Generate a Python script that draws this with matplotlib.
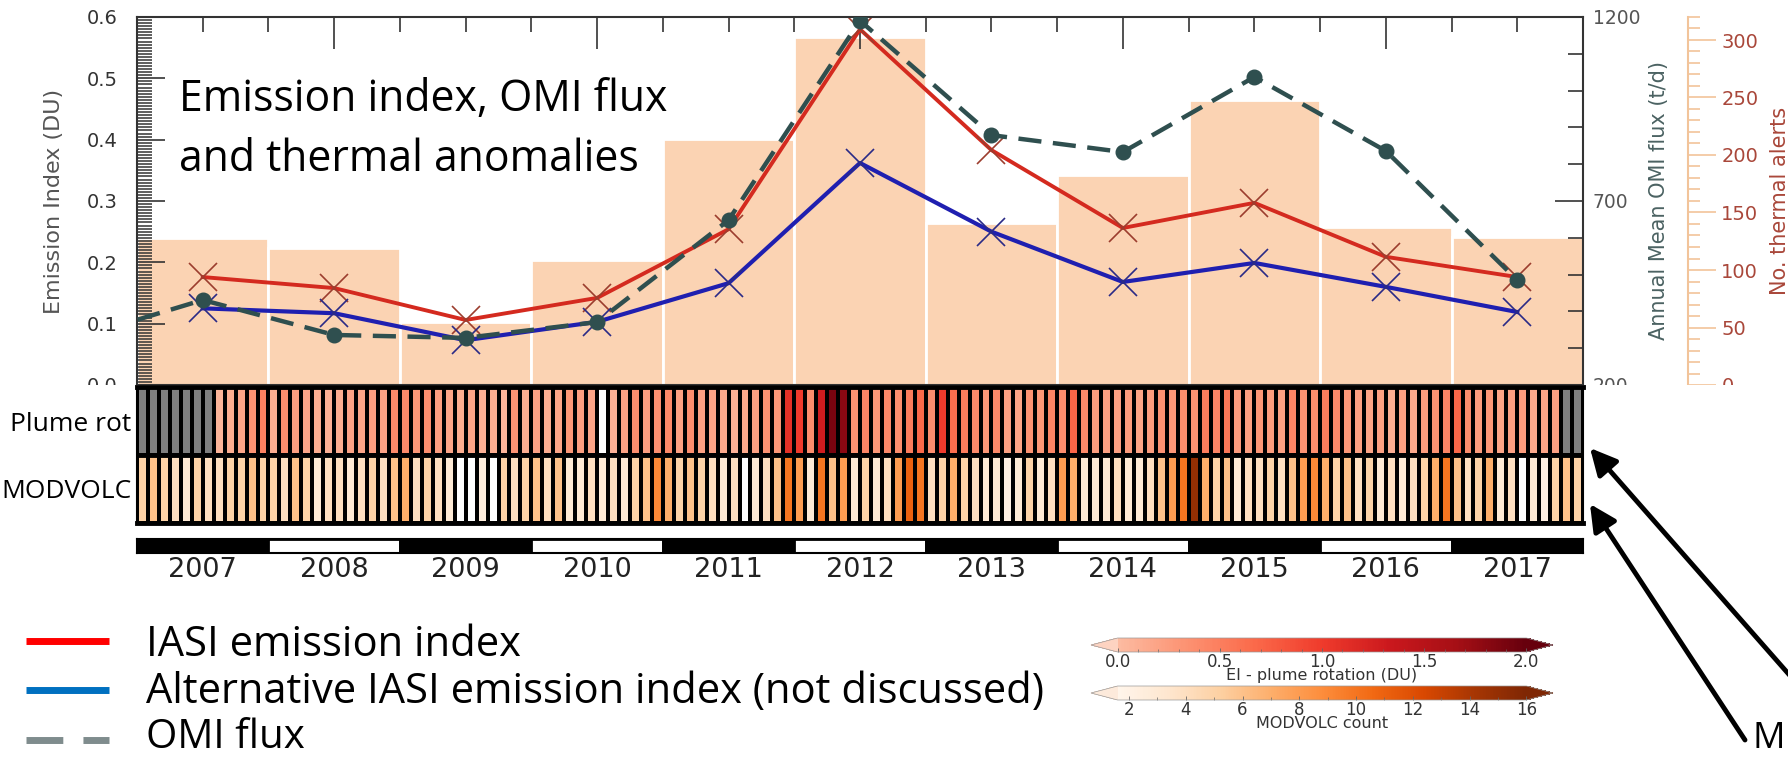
import numpy as np
import matplotlib
matplotlib.use("Agg")
import matplotlib.pyplot as plt
from matplotlib import colors
from matplotlib.patches import Rectangle
from matplotlib.ticker import MultipleLocator, FixedLocator

# annual series
years = list(range(2007, 2018))
iasi_ei = [0.176, 0.158, 0.106, 0.142, 0.254, 0.58, 0.383, 0.256, 0.297, 0.209, 0.176]
alt_ei = [0.125, 0.117, 0.073, 0.103, 0.166, 0.362, 0.25, 0.168, 0.199, 0.16, 0.119]
omi_years = list(range(2006, 2018))
omi_flux = [323, 431, 336, 328, 371, 648, 1190, 879, 833, 1037, 836, 485]
thermal_alerts = [128, 119, 55, 109, 214, 303, 141, 183, 248, 137, 129]

# monthly EI from plume rotation (nan = no data, -1 = not computed)
nan = np.nan
plume_rot = [
    nan, nan, nan, nan, nan, nan, nan, 0.06, 0.12, 0.18, 0.33, 0.48,           # 2007
    0.12, 0.37, 0.24, 0.18, 0.12, 0.09, 0.12, 0.21, 0.18, 0.24, 0.21, 0.42,    # 2008
    0.42, 0.3, 0.37, 0.24, 0.18, 0.12, 0.18, 0.09, 0.12, 0.06, 0.33, 0.12,     # 2009
    0.21, 0.12, 0.18, 0.3, 0.24, 0.18, -1, 0.09, 0.21, 0.37, 0.24, 0.36,       # 2010
    0.41, 0.22, 0.38, 0.22, 0.19, 0.15, 0.09, 0.15, 0.22, 0.34, 0.3, 1.1,      # 2011
    1.0, 0.38, 1.3, 1.9, 1.8, 0.34, 0.45, 0.3, 0.41, 0.38, 0.52, 0.68,         # 2012
    0.38, 1.0, 0.64, 0.52, 0.41, 0.3, 0.41, 0.22, 0.19, 0.34, 0.3, 0.45,       # 2013
    0.38, 0.71, 0.41, 0.26, 0.22, 0.22, 0.26, 0.19, 0.26, 0.34, 0.3, 0.38,     # 2014
    0.34, 0.52, 0.45, 0.56, 0.26, 0.22, 0.3, 0.26, 0.22, 0.45, 0.34, 0.38,     # 2015
    0.52, 0.41, 0.3, 0.22, 0.19, 0.22, 0.11, 0.22, 0.15, 0.26, 0.34, 0.45,     # 2016
    0.68, 0.38, 0.26, 0.3, 0.19, 0.22, 0.26, 0.15, 0.19, 0.22, nan, nan,       # 2017
]
# monthly MODVOLC alert counts
modvolc = [
    5, 6, 5, 4, 3, 5, 4, 4, 5, 5, 6, 5,
    5, 4, 6, 5, 3, 4, 4, 3, 4, 5, 4, 6,
    7, 4, 5, 4, 3, 0, 0, 2.5, 0, 5, 4, 5,
    6, 4, 6, 3, 3, 4, 3, 4, 3, 5, 6, 9,
    7, 5, 6, 5, 4, 3, 4, 0, 3, 4, 6, 10,
    8, 3, 10, 6, 8, 3, 5, 3, 4, 8, 11, 10,
    4, 5, 7, 5, 4, 3, 3, 2.2, 3, 5, 3, 4,
    8, 7, 3, 3, 3, 4, 3, 3, 4, 6, 8, 10,
    15, 7, 5, 6, 3, 4, 4, 5, 4, 6, 8, 9,
    7, 5, 6, 4, 5, 3, 4, 3, 4, 5, 7, 10,
    6, 4, 5, 7, 3, 4, 0, 3, 2.2, 5, 6, 5,
]

W, H = 1788, 758
fig = plt.figure(figsize=(W / 100, H / 100), dpi=100)
fig.patch.set_facecolor("white")


def box(x0, y0, x1, y1):
    # pixel box measured from the top-left corner -> figure fraction rect
    return [x0 / W, 1 - y1 / H, (x1 - x0) / W, (y1 - y0) / H]


main_rect = box(137, 17, 1583, 385)
xlim = (2006.5, 2017.5)
tick_grey = "#333333"

# thermal alerts as bars, axis pushed out to the right
ax_th = fig.add_axes(main_rect)
ax_th.set_zorder(0)
ax_th.bar(years, thermal_alerts, width=1.0, color="#fbd3b3",
          edgecolor="white", linewidth=2)
ax_th.set_xlim(*xlim)
ax_th.set_ylim(0, 320)
for s in ["left", "top", "bottom"]:
    ax_th.spines[s].set_visible(False)
ax_th.spines["right"].set_position(("axes", 1.0726))
ax_th.spines["right"].set_color("#f2c49a")
ax_th.spines["right"].set_linewidth(1.5)
ax_th.yaxis.tick_right()
ax_th.yaxis.set_label_position("right")
ax_th.yaxis.set_major_locator(MultipleLocator(50))
ax_th.yaxis.set_minor_locator(MultipleLocator(10))
ax_th.tick_params(axis="y", which="major", direction="out", length=20, width=1.2,
                  color="#f2c49a", labelcolor="#a9473a", labelsize=14, pad=4)
ax_th.tick_params(axis="y", which="minor", direction="out", length=8.5, width=1.2,
                  color="#f2c49a")
ax_th.tick_params(axis="x", which="both", bottom=False, labelbottom=False)
ax_th.set_ylabel("No. thermal alerts", color="#a9473a", fontsize=15, labelpad=8)

# emission index lines, left axis
ax_ei = fig.add_axes(main_rect, sharex=ax_th)
ax_ei.set_zorder(1)
ax_ei.patch.set_visible(False)
ax_ei.plot(years, iasi_ei, color="#d42a1f", lw=2.8, marker="x", ms=20,
           mec="#9c3d2e", mew=1.2)
ax_ei.plot(years, alt_ei, color="#1f1fb0", lw=3.0, marker="x", ms=20,
           mec="#2a2a86", mew=1.2)
ax_ei.set_ylim(0, 0.6)
ax_ei.yaxis.set_major_locator(MultipleLocator(0.1))
ax_ei.yaxis.set_minor_locator(MultipleLocator(0.005))
ax_ei.tick_params(axis="y", which="major", direction="in", length=20, width=1.2,
                  color=tick_grey, labelcolor=tick_grey, labelsize=14, pad=14)
ax_ei.tick_params(axis="y", which="minor", direction="in", length=10.5, width=1.1,
                  color=tick_grey)
ax_ei.xaxis.tick_top()
ax_ei.xaxis.set_major_locator(FixedLocator([2008, 2010, 2012, 2014, 2016]))
ax_ei.xaxis.set_minor_locator(MultipleLocator(0.5))
ax_ei.tick_params(axis="x", which="major", direction="in", length=23, width=1.2,
                  color=tick_grey, labeltop=False, labelbottom=False)
ax_ei.tick_params(axis="x", which="minor", direction="in", length=11, width=1.2,
                  color=tick_grey)
ax_ei.spines["right"].set_visible(False)
for s in ["left", "top", "bottom"]:
    ax_ei.spines[s].set_linewidth(1.5)
    ax_ei.spines[s].set_color(tick_grey)
ax_ei.set_ylabel("Emission Index (DU)", color="#555555", fontsize=16, labelpad=16)

# OMI flux, right axis
ax_omi = fig.add_axes(main_rect, sharex=ax_th)
ax_omi.set_zorder(1.5)
ax_omi.patch.set_visible(False)
ax_omi.plot(omi_years, omi_flux, color="#2f4f4f", lw=3.2, ls=(0, (5.2, 2.6)),
            marker="o", ms=10.5)
ax_omi.set_xlim(*xlim)
ax_omi.set_ylim(200, 1200)
ax_omi.yaxis.tick_right()
ax_omi.yaxis.set_label_position("right")
ax_omi.yaxis.set_major_locator(FixedLocator([200, 700, 1200]))
ax_omi.yaxis.set_minor_locator(MultipleLocator(100))
ax_omi.tick_params(axis="y", which="major", direction="in", length=20, width=1.2,
                   color=tick_grey, labelcolor="#555555", labelsize=13.5, pad=7)
ax_omi.tick_params(axis="y", which="minor", direction="in", length=11, width=1.2,
                   color=tick_grey)
ax_omi.tick_params(axis="x", which="both", bottom=False, top=False,
                   labelbottom=False, labeltop=False)
for s in ["left", "top", "bottom"]:
    ax_omi.spines[s].set_visible(False)
ax_omi.spines["right"].set_linewidth(1.5)
ax_omi.spines["right"].set_color(tick_grey)
ax_omi.set_ylabel("Annual Mean OMI flux (t/d)", color="#4b6262", fontsize=15,
                  labelpad=6)

# strip under the panel hides the lower half of the bottom tick labels
fig.add_artist(Rectangle((0, 1 - 400 / H), 1, 15 / H, transform=fig.transFigure,
                         facecolor="white", edgecolor="none", zorder=2))

# monthly strips
reds = plt.get_cmap("Reds")
plume_cmap = colors.LinearSegmentedColormap.from_list(
    "plume", reds(np.linspace(0.25, 1.0, 256)))
plume_cmap.set_bad("#7f7f7f")
plume_cmap.set_under("white")
plume_norm = colors.Normalize(0, 2)

mv_cmap = plt.get_cmap("Oranges").copy()
mv_cmap.set_under("white")
mv_norm = colors.Normalize(1.6, 16)

ax_hm = fig.add_axes(box(137, 387, 1583, 523))
ax_hm.set_zorder(3)
months = xlim[0] + np.arange(len(plume_rot) + 1) / 12
ax_hm.pcolormesh(months, [1, 2], np.ma.masked_invalid([plume_rot]),
                 cmap=plume_cmap, norm=plume_norm, edgecolors="black", linewidth=1.5)
ax_hm.pcolormesh(months, [0, 1], np.array([modvolc], dtype=float),
                 cmap=mv_cmap, norm=mv_norm, edgecolors="black", linewidth=1.5)
ax_hm.axhline(1, color="black", lw=3.5)
ax_hm.set_xlim(*xlim)
ax_hm.set_ylim(0, 2)
ax_hm.set_xticks([])
ax_hm.set_yticks([0.5, 1.5])
ax_hm.set_yticklabels(["MODVOLC", "Plume rot"], family="Open Sans", fontsize=19)
ax_hm.tick_params(axis="y", length=0, pad=4, labelcolor="black")
for s in ["top", "bottom"]:
    ax_hm.spines[s].set_linewidth(3.5)
for s in ["left", "right"]:
    ax_hm.spines[s].set_linewidth(1.5)

# alternating year band
ax_yr = fig.add_axes(box(137, 539, 1583, 553))
ax_yr.set_zorder(3)
band_colors = ["black" if (y - years[0]) % 2 == 0 else "white" for y in years]
ax_yr.bar(years, [1] * len(years), width=1.0, color=band_colors,
          edgecolor="black", linewidth=2)
ax_yr.set_xlim(*xlim)
ax_yr.set_ylim(0, 1)
ax_yr.set_yticks([])
ax_yr.set_xticks(years)
ax_yr.set_xticklabels([str(y) for y in years])
ax_yr.tick_params(axis="x", length=0, pad=3, labelsize=19.5, labelcolor="#222222")
for s in ax_yr.spines.values():
    s.set_linewidth(1.5)

# colour bars
cb_plume_cmap = plume_cmap.copy()
cb_plume_cmap.set_under(reds(0.17))
cb_mv_cmap = mv_cmap.copy()
cb_mv_cmap.set_under("#fdeadb")

cax1 = fig.add_axes(box(1091, 638, 1553, 652))
cb1 = fig.colorbar(plt.cm.ScalarMappable(norm=plume_norm, cmap=cb_plume_cmap),
                   cax=cax1, orientation="horizontal", extend="both", extendfrac=0.065)
cb1.set_ticks([0, 0.5, 1.0, 1.5, 2.0])
cb1.ax.xaxis.set_minor_locator(MultipleLocator(0.1))
cb1.set_label("EI - plume rotation (DU)", fontsize=11.5, labelpad=-2, color="#333333")

cax2 = fig.add_axes(box(1091, 686, 1553, 700))
cb2 = fig.colorbar(plt.cm.ScalarMappable(norm=mv_norm, cmap=cb_mv_cmap),
                   cax=cax2, orientation="horizontal", extend="both", extendfrac=0.065)
cb2.set_ticks(list(range(2, 17, 2)))
cb2.ax.xaxis.set_minor_locator(MultipleLocator(1))
cb2.set_label("MODVOLC count", fontsize=11.5, labelpad=-2, color="#333333")

for cb in (cb1, cb2):
    cb.outline.set_linewidth(0.5)
    cb.outline.set_edgecolor("#999999")
    cb.ax.tick_params(which="major", direction="in", length=3, width=0.6,
                      color="#666666", labelsize=12, labelcolor="#333333", pad=0.5)
    cb.ax.tick_params(which="minor", direction="in", length=2, width=0.5,
                      color="#666666")

# overlay in pixel coordinates for legend, caption and arrows
ov = fig.add_axes([0, 0, 1, 1])
ov.set_zorder(4)
ov.patch.set_visible(False)
ov.set_xlim(0, W)
ov.set_ylim(H, 0)
ov.axis("off")

hand = "Open Sans"
ov.text(179, 100, "Emission index, OMI flux", family=hand, fontsize=30.8,
        va="center", ha="left", color="black")
ov.text(179, 160, "and thermal anomalies", family=hand, fontsize=30.8,
        va="center", ha="left", color="black")

ov.plot([26, 109], [641, 641], color="#ff0000", lw=5, solid_capstyle="butt")
ov.plot([26, 109], [690, 690], color="#0070c0", lw=5, solid_capstyle="butt")
ov.plot([26, 109], [740, 740], color="#7f8c8d", lw=5, ls=(0, (5.3, 2.9)),
        dash_capstyle="butt")
ov.text(146, 645, "IASI emission index", family=hand, fontsize=30,
        va="center", ha="left")
ov.text(146, 692, "Alternative IASI emission index (not discussed)", family=hand,
        fontsize=30, va="center", ha="left")
ov.text(146, 748, "OMI flux", family=hand, fontsize=29, va="baseline", ha="left")

arrow = dict(arrowstyle="-|>,head_length=0.8,head_width=0.4", lw=3.5,
             color="black", shrinkA=0, shrinkB=0, mutation_scale=20)
ov.annotate("", xy=(1590, 448), xytext=(1800, 687), arrowprops=arrow)
ov.annotate("", xy=(1590, 504), xytext=(1745, 740), arrowprops=arrow)
ov.text(1752, 748, "M", family=hand, fontsize=26, va="baseline", ha="left")

fig.savefig("out.png", dpi=100, facecolor="white")
